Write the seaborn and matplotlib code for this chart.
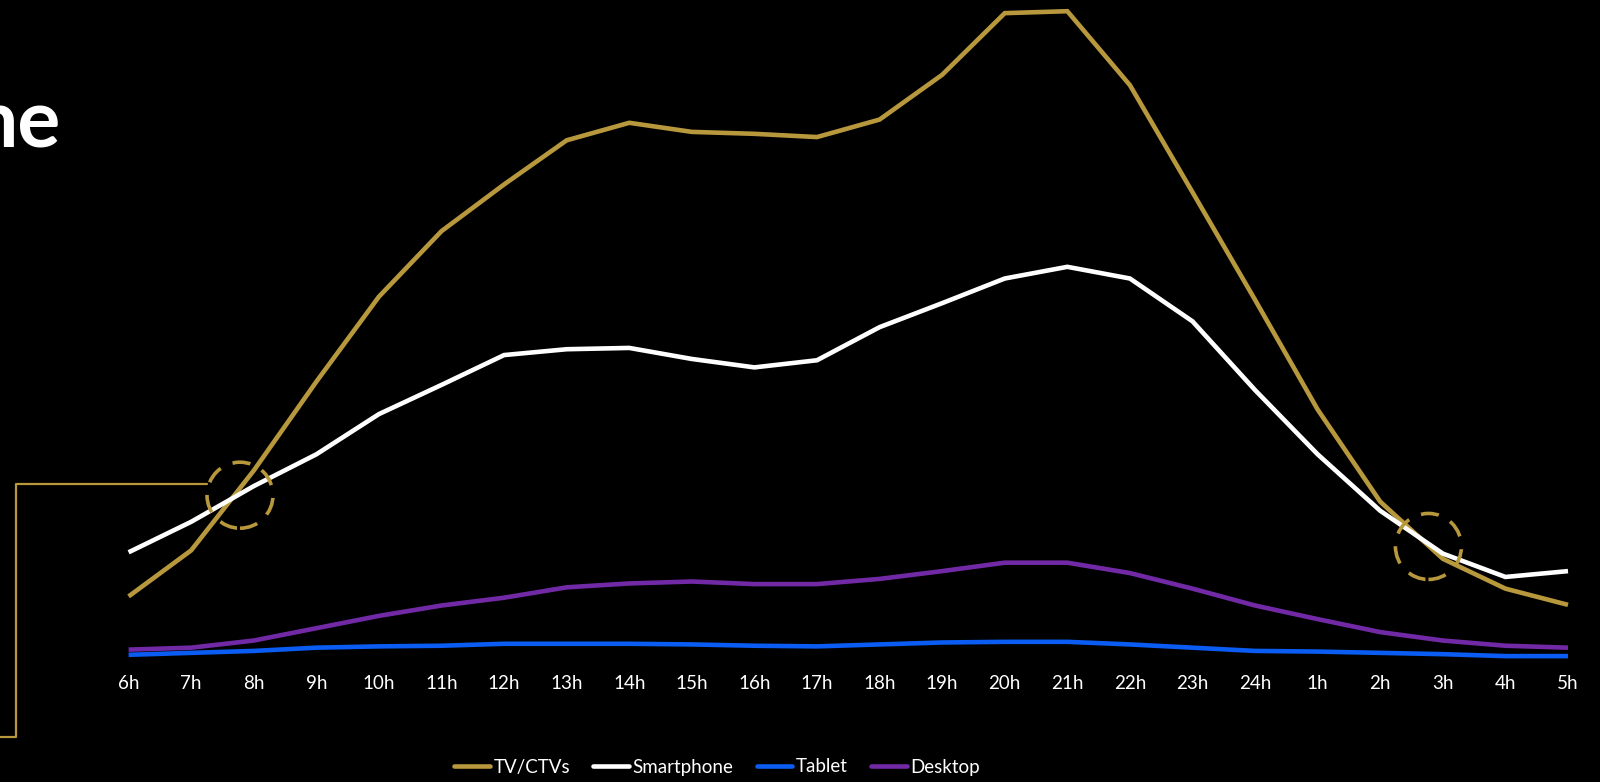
import matplotlib
matplotlib.use("Agg")
import matplotlib.pyplot as plt
from matplotlib.patches import Ellipse
from matplotlib.lines import Line2D
import seaborn as sns
import pandas as pd

# Hourly audience index by device (peak = 100)
hours = ["6h", "7h", "8h", "9h", "10h", "11h", "12h", "13h", "14h", "15h", "16h", "17h",
         "18h", "19h", "20h", "21h", "22h", "23h", "24h", "1h", "2h", "3h", "4h", "5h"]
tv = [9.8, 16.9, 29.2, 42.9, 56.0, 66.1, 73.3, 80.1, 82.8, 81.4, 81.1, 80.6,
      83.3, 90.2, 99.7, 100.0, 88.6, 72.1, 55.5, 38.6, 24.4, 15.6, 11.0, 8.5]
smartphone = [16.6, 21.3, 26.8, 31.7, 37.9, 42.4, 47.0, 47.9, 48.1, 46.4, 45.1, 46.2,
              51.3, 55.0, 58.8, 60.6, 58.8, 52.2, 41.6, 31.7, 23.0, 16.4, 12.8, 13.7]
tablet = [0.8, 1.1, 1.4, 1.9, 2.1, 2.2, 2.5, 2.5, 2.5, 2.4, 2.2, 2.1,
          2.4, 2.7, 2.8, 2.8, 2.4, 1.9, 1.4, 1.3, 1.1, 0.9, 0.6, 0.6]
desktop = [1.6, 1.9, 3.0, 4.9, 6.8, 8.4, 9.6, 11.2, 11.8, 12.1, 11.7, 11.7,
           12.5, 13.7, 15.0, 15.0, 13.4, 11.0, 8.4, 6.3, 4.3, 3.0, 2.2, 1.9]
devices = ["TV/CTVs", "Smartphone", "Tablet", "Desktop"]
colors = ["#B8983C", "#FFFFFF", "#0A5CF2", "#7229A6"]

df = pd.concat([
    pd.DataFrame({"hour": hours, "value": vals, "device": name})
    for name, vals in zip(devices, [tv, smartphone, tablet, desktop])
])

sns.set_theme(style="dark")
plt.rcParams["font.family"] = ["Lato", "DejaVu Sans"]

W, H = 1600, 782
fig = plt.figure(figsize=(16, 7.82), dpi=100, facecolor="black")
left, right, bottom, top = 128.6, 1568.0, 660.0, 11.2
ax = fig.add_axes([left / W, 1 - bottom / H, (right - left) / W, (bottom - top) / H])
ax.set_facecolor("black")

sns.lineplot(data=df, x="hour", y="value", hue="device", hue_order=devices,
             palette=colors, linewidth=3.3, ax=ax, legend=True, sort=False)
for ln in ax.get_lines():
    ln.set_clip_on(False)
    ln.set_solid_joinstyle("miter")
    ln.set_solid_capstyle("butt")

ax.set_xlim(0, len(hours) - 1)
ax.set_ylim(0, 100)
ax.set_xlabel("")
ax.set_ylabel("")
ax.set_yticks([])
ax.grid(False)
for s in ax.spines.values():
    s.set_visible(False)
ax.tick_params(axis="x", length=0, pad=11, labelsize=13.5, labelcolor="white")

# legend along the bottom
leg = ax.legend(handles=[Line2D([], [], color=c, lw=3.3) for c in colors], labels=devices,
                loc="center", bbox_to_anchor=(717 / W, 1 - 767 / H),
                bbox_transform=fig.transFigure, ncol=4, frameon=False,
                handlelength=1.9, handletextpad=0.18, columnspacing=1.25,
                fontsize=13.5)
for t in leg.get_texts():
    t.set_color("white")

# dashed circles marking where TV and smartphone cross
px_x = (right - left) / (len(hours) - 1)
px_y = (bottom - top) / 100
r = 33
for cx, cy in [(1.78, 25.4), (20.77, 17.5)]:
    ax.add_patch(Ellipse((cx, cy), 2 * r / px_x, 2 * r / px_y, fill=False,
                         edgecolor=colors[0], lw=2.6, linestyle=(0, (5, 3.6)),
                         clip_on=False, zorder=5))

# bracket connector on the left
bx = [207 / W, 15.7 / W, 15.7 / W, -0.01]
by = [1 - 484 / H, 1 - 484 / H, 1 - 736.7 / H, 1 - 736.7 / H]
fig.add_artist(Line2D(bx, by, color=colors[0], lw=1.6, transform=fig.transFigure))

# heading fragment at the top left
fig.text(60 / W, 1 - 148 / H, "ne", color="white", fontsize=58, fontweight="bold",
         ha="right", va="baseline", family=["Lato", "DejaVu Sans"])

fig.savefig("out.png", dpi=100, facecolor="black")
